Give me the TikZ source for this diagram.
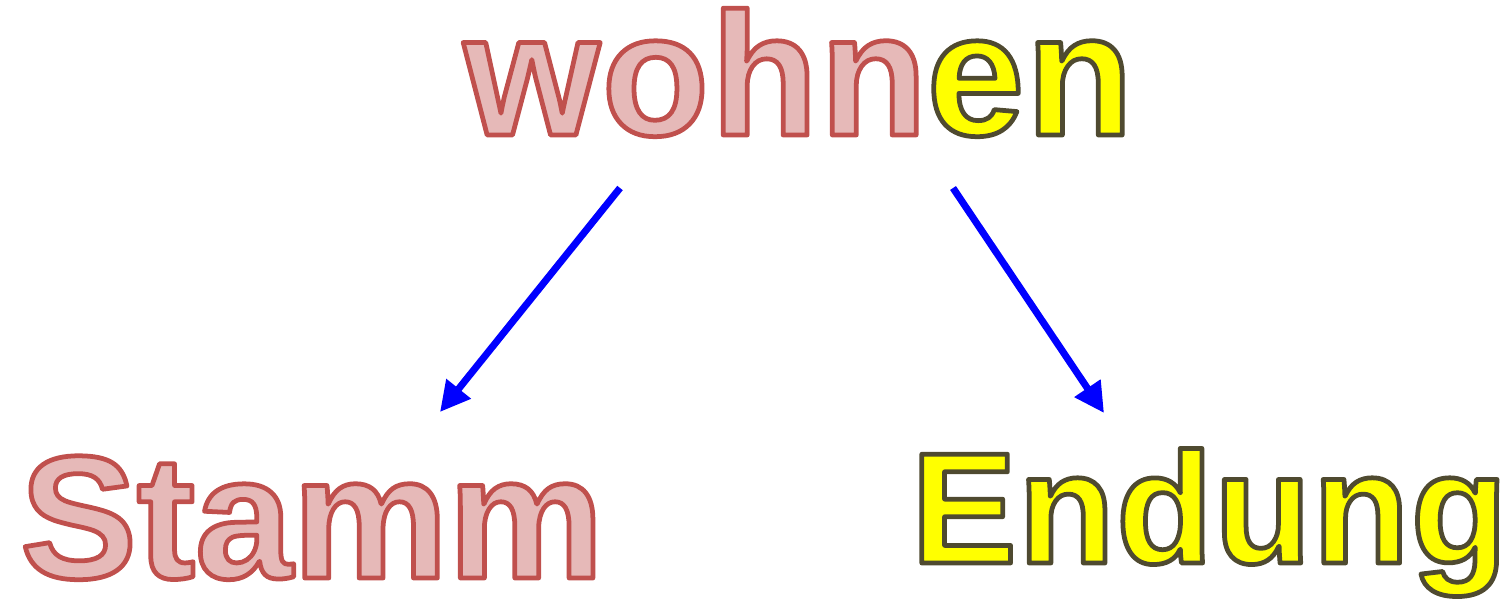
\documentclass[tikz,border=0pt]{standalone}
\usepackage{fontspec}
\usetikzlibrary{arrows.meta,positioning}
\newfontfamily\wordfont{Liberation Sans}
\definecolor{StemFill}{HTML}{E6B9B8}
\definecolor{EndFill}{HTML}{FFFF00}
\definecolor{ArrowBlue}{HTML}{0000FF}
% fill + stroke text (render mode 2), stroke colour given as rgb triple
\newcommand{\outlined}[3]{{\color{#1}\special{pdf:code q 2 Tr 1.35 w 1 j #2 RG}#3\special{pdf:code Q}}}
\newcommand{\stemword}[1]{\outlined{StemFill}{0.753 0.314 0.302}{#1}}
\newcommand{\suffixword}[1]{\outlined{EndFill}{0.310 0.290 0.188}{#1}}

\begin{document}
\begin{tikzpicture}[
    word/.style={anchor=base west, inner sep=0pt, font=\wordfont\bfseries},
    split/.style={draw=ArrowBlue, line width=2pt, -{Triangle[length=8.5pt,width=8.5pt]}}
  ]
    \useasboundingbox (0,0) rectangle (15.11,6);
    \node[word] (verb) at (4.63,4.65) {\fontsize{49.8}{60}\selectfont\addfontfeatures{LetterSpace=1.2}\stemword{wohn}\suffixword{en}};
    \node[word] (stamm) at (0.195,0.22) {\fontsize{49.8}{60}\selectfont\stemword{Stamm}};
    \node[word] (endung) at (9.105,0.37) {\fontsize{45}{54}\selectfont\addfontfeatures{LetterSpace=1}\suffixword{Endung}};
    \coordinate (stamm tail) at (6.20,4.12);
    \coordinate (stamm tip) at (4.40,1.88);
    \coordinate (endung tail) at (9.53,4.12);
    \coordinate (endung tip) at (11.04,1.87);
    \draw[split] (stamm tail) -- (stamm tip);
    \draw[split] (endung tail) -- (endung tip);
  \end{tikzpicture}
\end{document}
